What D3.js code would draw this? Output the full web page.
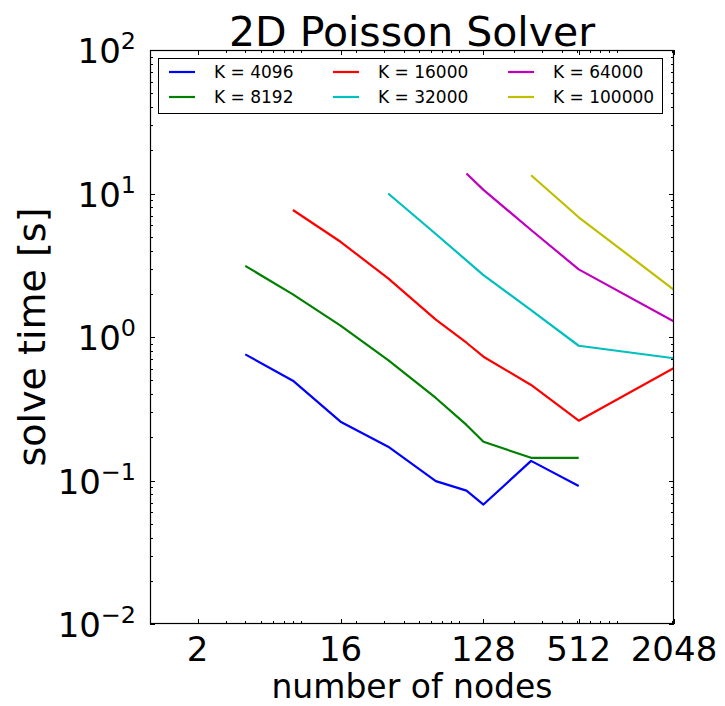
<!DOCTYPE html>
<html>
<head>
<meta charset="utf-8">
<script src="https://cdn.jsdelivr.net/npm/d3@7"></script>
<style>
  html, body { margin: 0; padding: 0; background: #fff; }
  text { font-family: "DejaVu Sans", sans-serif; fill: #000; }
</style>
</head>
<body>
<svg id="chart" width="725" height="706"></svg>
<script>
// Node counts sampled in the scaling runs
const nodes = [4, 8, 16, 32, 64, 100, 128, 256, 512, 2048];

// Solve time [s] per problem size K (null = not run)
const k4096   = [0.757, 0.496, 0.257, 0.172, 0.099, 0.085, 0.068, 0.137, 0.0916, null];
const k8192   = [3.13, 1.98, 1.20, 0.691, 0.376, 0.244, 0.186, 0.144, 0.144, null];
const k16000  = [null, 7.67, 4.61, 2.56, 1.32, 0.912, 0.729, 0.463, 0.261, 0.608];
const k32000  = [null, null, null, 10.0, 5.22, null, 2.70, 1.54, 0.869, 0.711];
const k64000  = [null, null, null, null, null, 13.8, 10.6, 5.57, 2.96, 1.28];
const k100000 = [null, null, null, null, null, null, null, 13.4, 6.83, 2.13];

const seriesLabels = ["K = 4096", "K = 8192", "K = 16000", "K = 32000", "K = 64000", "K = 100000"];
const seriesColors = ["#0000ff", "#008000", "#ff0000", "#00bfbf", "#bf00bf", "#bfbf00"];
const seriesValues = [k4096, k8192, k16000, k32000, k64000, k100000];

const xTickValues = [2, 16, 128, 512, 2048];
const yTickExponents = [-2, -1, 0, 1, 2];

const svg = d3.select("#chart");
const W = 725, H = 706;
const m = { left: 150, right: 51, top: 50, bottom: 82 };
const x0 = m.left, x1 = W - m.right, y0 = m.top, y1 = H - m.bottom;

svg.append("rect").attr("width", W).attr("height", H).attr("fill", "#fff");

const x = d3.scaleLog().base(2).domain([1, 2048]).range([x0, x1]);
const y = d3.scaleLog().domain([0.01, 100]).range([y1, y0]);

// log-10 minor tick positions (2..9 x 10^k) inside a domain
function minorTicks(lo, hi) {
  const out = [];
  for (let e = -3; e <= 4; e++) {
    for (let s = 2; s <= 9; s++) {
      const v = s * Math.pow(10, e);
      if (v > lo && v < hi) out.push(v);
    }
  }
  return out;
}
const xMinor = minorTicks(1, 2048);
const yMinor = minorTicks(0.01, 100);

const g = svg.append("g");

// inward ticks on all four sides
const majLen = 5, minLen = 3;
const tickG = g.append("g").attr("stroke", "#000").attr("stroke-width", 1).attr("shape-rendering", "crispEdges");
function hTicks(vals, len) {
  vals.forEach(v => {
    const px = Math.round(x(v)) + 0.5;
    tickG.append("line").attr("x1", px).attr("x2", px).attr("y1", y1).attr("y2", y1 - len);
    tickG.append("line").attr("x1", px).attr("x2", px).attr("y1", y0).attr("y2", y0 + len);
  });
}
function vTicks(vals, len) {
  vals.forEach(v => {
    const py = Math.round(y(v)) + 0.5;
    tickG.append("line").attr("y1", py).attr("y2", py).attr("x1", x0).attr("x2", x0 + len);
    tickG.append("line").attr("y1", py).attr("y2", py).attr("x1", x1).attr("x2", x1 - len);
  });
}
hTicks(xMinor, minLen);
hTicks(xTickValues, majLen);
vTicks(yMinor, minLen);
vTicks(yTickExponents.map(e => Math.pow(10, e)), majLen);

// data lines
const line = d3.line()
  .x(d => x(d.n))
  .y(d => y(d.v));

const clip = svg.append("clipPath").attr("id", "plotclip");
clip.append("rect").attr("x", x0).attr("y", y0).attr("width", x1 - x0).attr("height", y1 - y0);

const lineG = g.append("g").attr("clip-path", "url(#plotclip)");
seriesValues.forEach((vals, i) => {
  const pts = nodes.map((n, j) => ({ n: n, v: vals[j] })).filter(d => d.v != null);
  lineG.append("path")
    .attr("d", line(pts))
    .attr("fill", "none")
    .attr("stroke", seriesColors[i])
    .attr("stroke-width", 2.2)
    .attr("stroke-linejoin", "round");
});

// frame
g.append("rect")
  .attr("x", x0 + 0.5).attr("y", y0 + 0.5)
  .attr("width", x1 - x0 - 1).attr("height", y1 - y0 - 1)
  .attr("fill", "none").attr("stroke", "#000").attr("stroke-width", 1.2);

// x tick labels
const fs = 34;
xTickValues.forEach(v => {
  g.append("text")
    .attr("x", x(v)).attr("y", y1 + 37)
    .attr("text-anchor", "middle")
    .attr("font-size", fs)
    .text(v);
});

// y tick labels as 10^e
yTickExponents.forEach(e => {
  const t = g.append("text")
    .attr("x", x0 - 14).attr("y", y(Math.pow(10, e)) + 13)
    .attr("text-anchor", "end")
    .attr("font-size", fs);
  t.append("tspan").text("10");
  t.append("tspan").attr("dy", -14).attr("font-size", fs * 0.7)
    .text(e < 0 ? "\u2212" + (-e) : String(e));
});

// axis labels and title
g.append("text")
  .attr("x", (x0 + x1) / 2).attr("y", 698)
  .attr("text-anchor", "middle").attr("font-size", 33)
  .text("number of nodes");

g.append("text")
  .attr("transform", `translate(45,${(y0 + y1) / 2}) rotate(-90)`)
  .attr("text-anchor", "middle").attr("font-size", 38)
  .text("solve time [s]");

g.append("text")
  .attr("x", (x0 + x1) / 2).attr("y", 46)
  .attr("text-anchor", "middle").attr("font-size", 41)
  .text("2D Poisson Solver");

// legend
const lg = g.append("g");
lg.append("rect")
  .attr("x", 158.5).attr("y", 58.5).attr("width", 504).attr("height", 55)
  .attr("fill", "#fff").attr("stroke", "#000").attr("stroke-width", 1);
const colX = [169, 333, 508];
const rowY = [72, 97];
seriesLabels.forEach((lab, i) => {
  const col = Math.floor(i / 2), row = i % 2;
  const lx = colX[col], ly = rowY[row];
  lg.append("line")
    .attr("x1", lx).attr("x2", lx + 26).attr("y1", ly).attr("y2", ly)
    .attr("stroke", seriesColors[i]).attr("stroke-width", 2.2);
  lg.append("text")
    .attr("x", lx + 45).attr("y", ly + 6)
    .attr("font-size", 17)
    .text(lab);
});
</script>
</body>
</html>
